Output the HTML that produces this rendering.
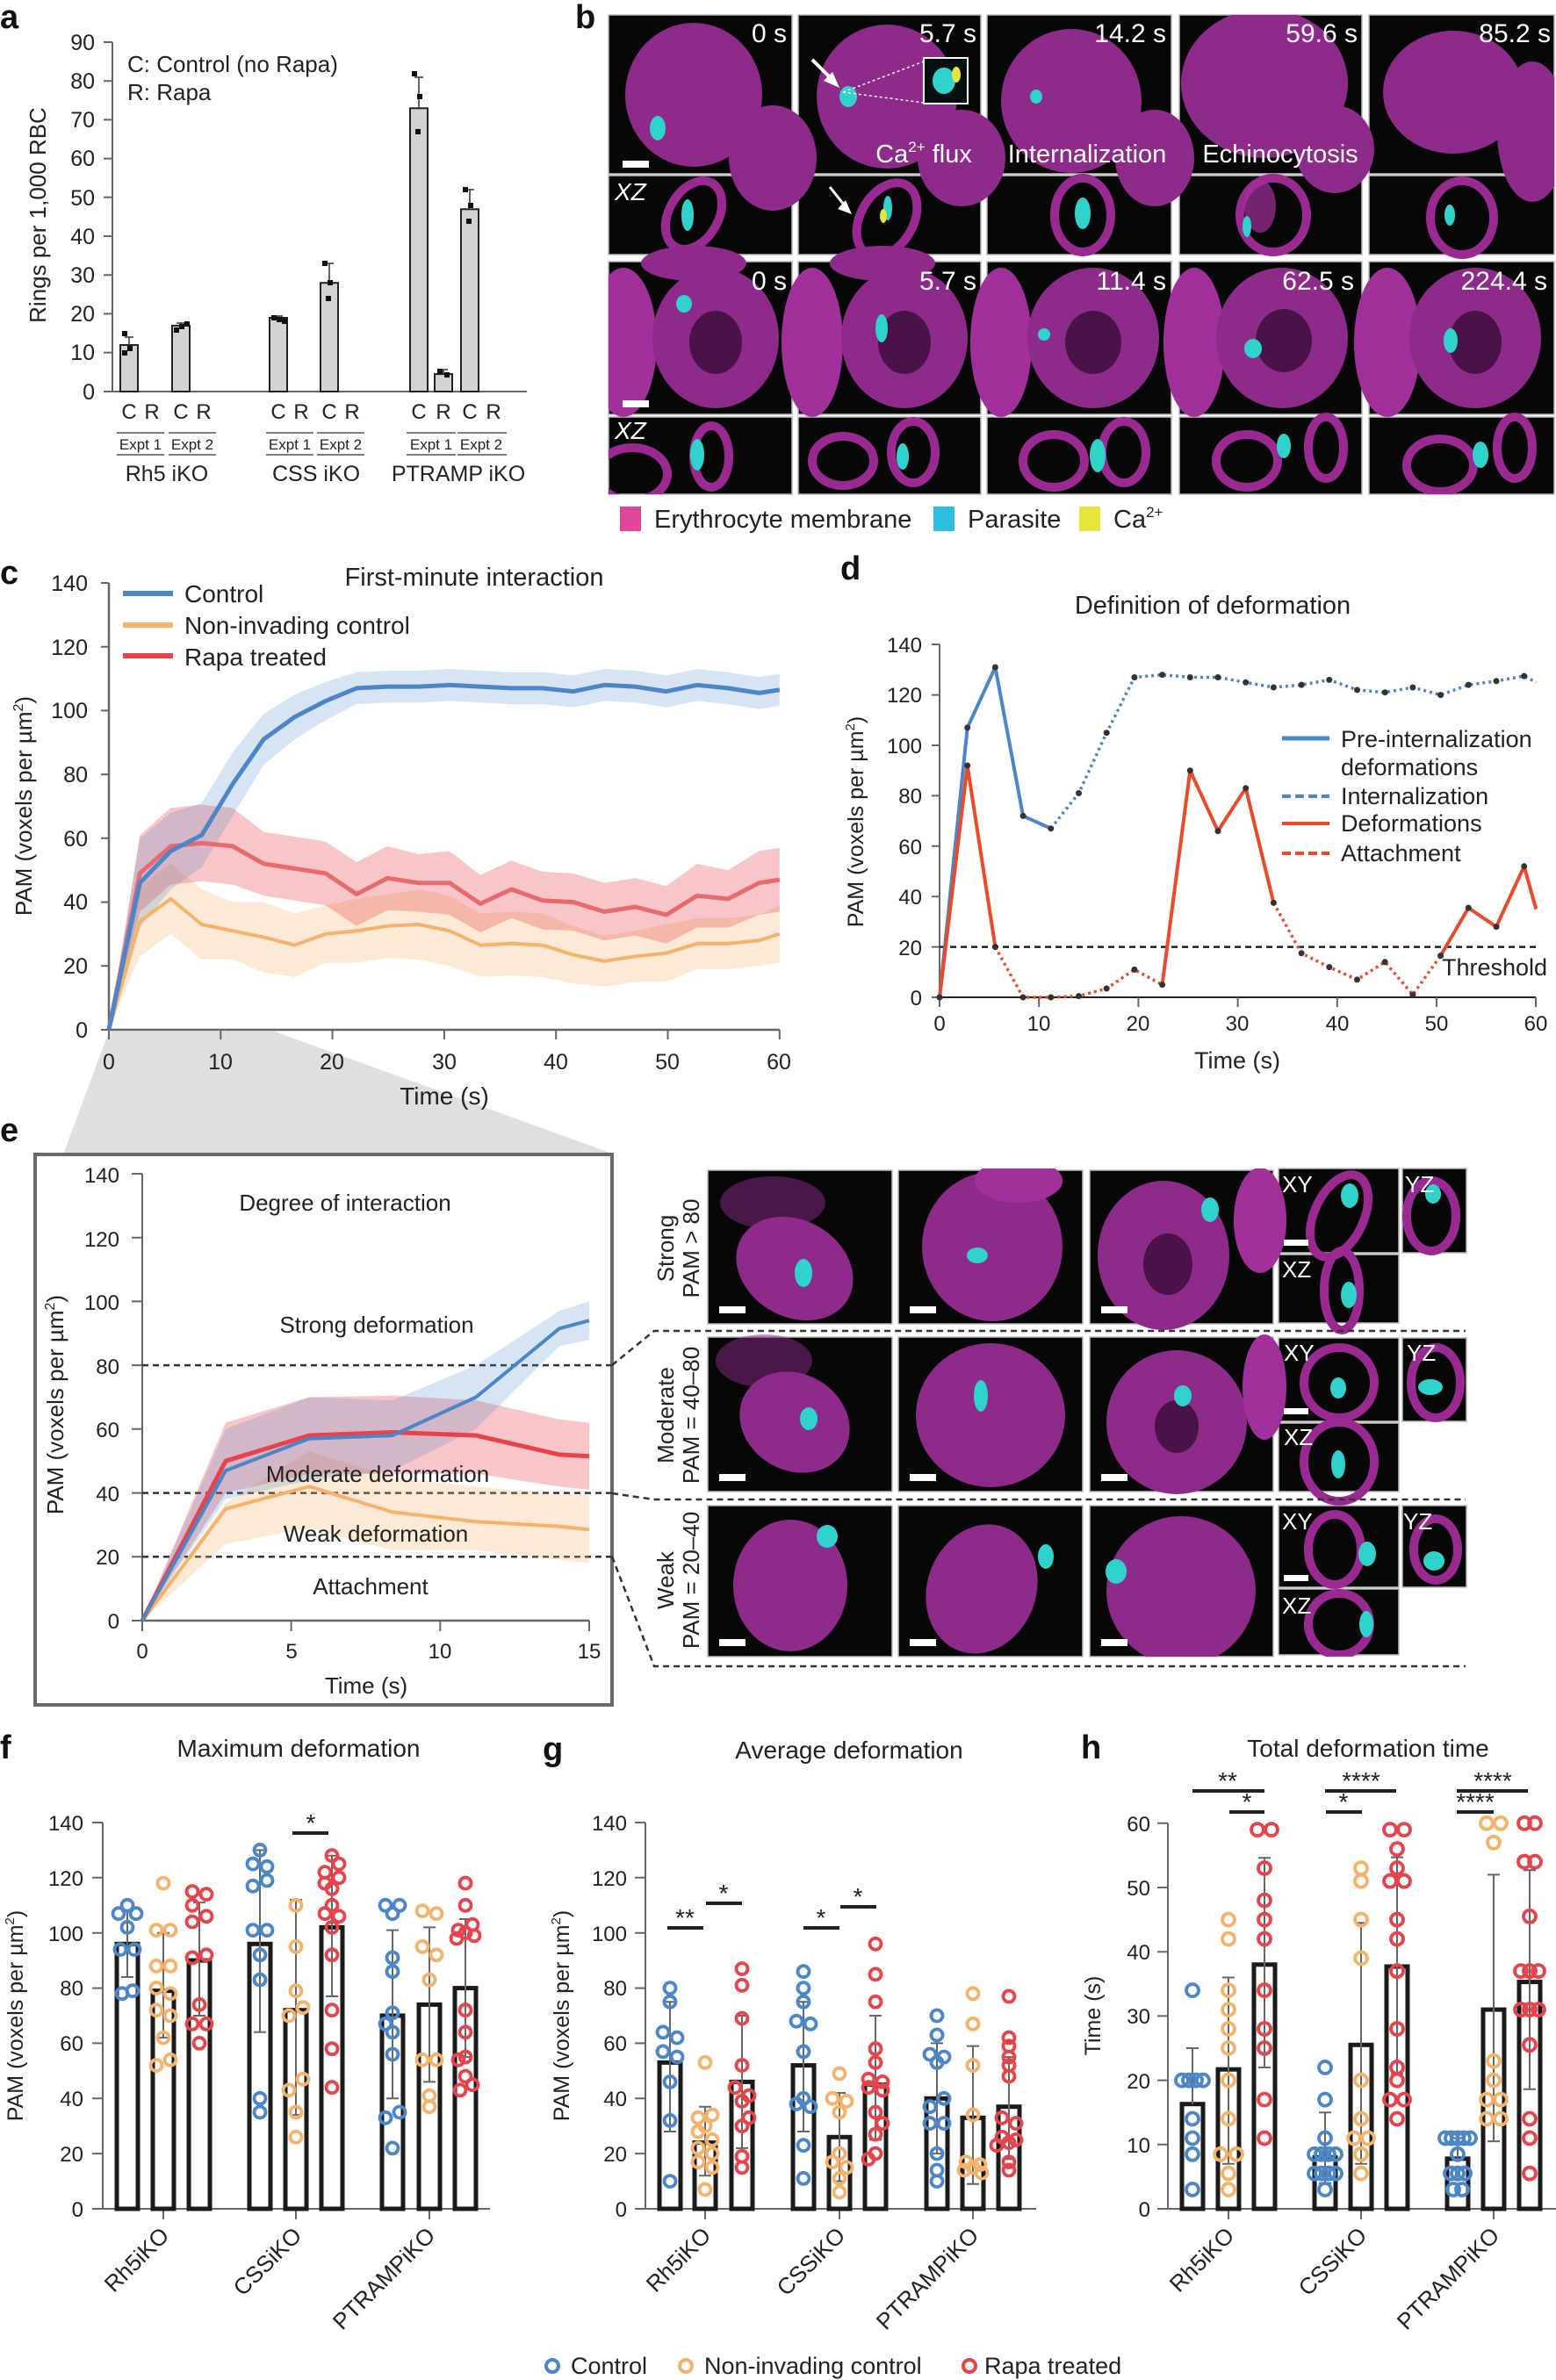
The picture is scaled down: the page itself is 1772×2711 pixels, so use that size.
<!DOCTYPE html>
<html><head><meta charset="utf-8">
<style>
html,body{margin:0;padding:0;background:#fff;}
svg{display:block;}
text{font-family:"Liberation Sans",sans-serif;fill:#222;}
.n{font-family:"Liberation Sans Narrow","Liberation Sans",sans-serif;}
.lab{font-weight:bold;font-size:38px;fill:#111;}
.w{fill:#fff;}
.cb circle{fill:none;stroke:#4a86c8;stroke-width:3.8;}
.co circle{fill:none;stroke:#f5b26b;stroke-width:3.8;}
.cr circle{fill:none;stroke:#e8424a;stroke-width:3.8;}
.bar{fill:#fff;stroke:#1a1a1a;stroke-width:5;}
.er{stroke:#666;stroke-width:2;fill:none;}
.ax{stroke:#666;stroke-width:2;fill:none;}
.im{fill:#070707;stroke:#bbb;stroke-width:1.5;}
.cell{fill:#8e2a8a;}
.cell2{fill:#a2309a;}
.ring{fill:none;stroke:#9a2a92;stroke-width:10;}
.cy{fill:#2fd3cc;}
</style></head>
<body>
<svg xmlns="http://www.w3.org/2000/svg" width="1772" height="2711" viewBox="0 0 1772 2711">
<defs>
<clipPath id="cb1"><rect x="693" y="17" width="1077" height="546"/></clipPath>
<clipPath id="ce1"><rect x="806" y="1331" width="864" height="556"/></clipPath>
</defs>
<!-- gray trapezoid and e box -->
<polygon points="124,1175 313,1175 700,1315 72,1315" fill="#dedfdf"/>
<rect x="40" y="1315" width="657" height="627" fill="#fff" stroke="#6a6a6a" stroke-width="4"/>

<!-- ===== Panel b images ===== -->
<g>
<rect class="im" x="693" y="17" width="209" height="181"/><rect class="im" x="909" y="17" width="208" height="181"/><rect class="im" x="1124" y="17" width="210" height="181"/><rect class="im" x="1343" y="17" width="208" height="181"/><rect class="im" x="1559" y="17" width="211" height="181"/>
<rect class="im" x="693" y="200" width="209" height="90"/><rect class="im" x="909" y="200" width="208" height="90"/><rect class="im" x="1124" y="200" width="210" height="90"/><rect class="im" x="1343" y="200" width="208" height="90"/><rect class="im" x="1559" y="200" width="211" height="90"/>
<rect class="im" x="693" y="298" width="209" height="174"/><rect class="im" x="909" y="298" width="208" height="174"/><rect class="im" x="1124" y="298" width="210" height="174"/><rect class="im" x="1343" y="298" width="208" height="174"/><rect class="im" x="1559" y="298" width="211" height="174"/>
<rect class="im" x="693" y="475" width="209" height="88"/><rect class="im" x="909" y="475" width="208" height="88"/><rect class="im" x="1124" y="475" width="210" height="88"/><rect class="im" x="1343" y="475" width="208" height="88"/><rect class="im" x="1559" y="475" width="211" height="88"/>
<g clip-path="url(#cb1)">
<!-- row1 -->
<ellipse class="cell" cx="790" cy="108" rx="78" ry="82"/><ellipse class="cell" cx="880" cy="180" rx="50" ry="60"/>
<ellipse class="cell" cx="1010" cy="110" rx="80" ry="82"/><ellipse class="cell" cx="1095" cy="180" rx="50" ry="55"/>
<ellipse class="cell" cx="1220" cy="115" rx="80" ry="82"/><ellipse class="cell" cx="1315" cy="180" rx="45" ry="55"/>
<ellipse class="cell" cx="1440" cy="95" rx="95" ry="85"/><ellipse class="cell" cx="1520" cy="170" rx="45" ry="50"/>
<ellipse class="cell" cx="1655" cy="105" rx="80" ry="70"/><ellipse class="cell" cx="1745" cy="150" rx="40" ry="80"/>
<!-- row2 -->
<ellipse class="ring" cx="790" cy="245" rx="28" ry="42" transform="rotate(30 790 245)"/>
<ellipse class="ring" cx="1010" cy="250" rx="30" ry="45" transform="rotate(30 1010 250)"/>
<ellipse class="ring" cx="1233" cy="245" rx="32" ry="42"/>
<ellipse class="ring" cx="1450" cy="245" rx="38" ry="42"/><ellipse class="cell2" cx="1435" cy="235" rx="18" ry="30" opacity="0.7"/>
<ellipse class="ring" cx="1665" cy="248" rx="36" ry="42"/>
<!-- row3 -->
<ellipse class="cell2" cx="710" cy="390" rx="38" ry="85"/><ellipse class="cell" cx="815" cy="385" rx="72" ry="80"/><ellipse fill="#4a1248" cx="815" cy="390" rx="30" ry="36"/><ellipse class="cell" cx="790" cy="300" rx="60" ry="20"/>
<ellipse class="cell2" cx="925" cy="390" rx="35" ry="85"/><ellipse class="cell" cx="1030" cy="385" rx="72" ry="80"/><ellipse fill="#4a1248" cx="1030" cy="390" rx="30" ry="36"/><ellipse class="cell" cx="1005" cy="300" rx="60" ry="20"/>
<ellipse class="cell2" cx="1140" cy="390" rx="35" ry="85"/><ellipse class="cell" cx="1245" cy="385" rx="75" ry="80"/><ellipse fill="#4a1248" cx="1245" cy="390" rx="32" ry="36"/>
<ellipse class="cell2" cx="1360" cy="390" rx="35" ry="85"/><ellipse class="cell" cx="1460" cy="385" rx="75" ry="80"/><ellipse fill="#4a1248" cx="1462" cy="388" rx="32" ry="36"/>
<ellipse class="cell2" cx="1580" cy="390" rx="38" ry="85"/><ellipse class="cell" cx="1680" cy="385" rx="75" ry="80"/><ellipse fill="#4a1248" cx="1680" cy="390" rx="30" ry="36"/>
<!-- row4 -->
<ellipse class="ring" cx="720" cy="540" rx="40" ry="30"/><ellipse class="ring" cx="810" cy="520" rx="20" ry="35"/>
<ellipse class="ring" cx="960" cy="525" rx="35" ry="28"/><ellipse class="ring" cx="1040" cy="515" rx="25" ry="35"/>
<ellipse class="ring" cx="1200" cy="525" rx="35" ry="30"/><ellipse class="ring" cx="1280" cy="515" rx="25" ry="35"/>
<ellipse class="ring" cx="1420" cy="525" rx="35" ry="30"/><ellipse class="ring" cx="1510" cy="510" rx="20" ry="35"/>
<ellipse class="ring" cx="1640" cy="530" rx="38" ry="30"/><ellipse class="ring" cx="1725" cy="510" rx="20" ry="35"/>
<!-- parasites -->
<ellipse class="cy" cx="749" cy="146" rx="9" ry="14"/><ellipse class="cy" cx="966" cy="110" rx="10" ry="12"/><ellipse class="cy" cx="1180" cy="110" rx="7" ry="8"/>
<ellipse class="cy" cx="783" cy="245" rx="7" ry="18"/><ellipse class="cy" cx="1011" cy="237" rx="5" ry="14"/><ellipse fill="#e6e63a" cx="1006" cy="246" rx="4" ry="8"/><ellipse class="cy" cx="1233" cy="243" rx="9" ry="18"/><ellipse class="cy" cx="1420" cy="258" rx="5" ry="12"/><ellipse class="cy" cx="1651" cy="245" rx="6" ry="12"/>
<ellipse class="cy" cx="779" cy="346" rx="9" ry="10"/><ellipse class="cy" cx="1004" cy="374" rx="7" ry="16"/><ellipse class="cy" cx="1189" cy="381" rx="7" ry="7"/><ellipse class="cy" cx="1427" cy="397" rx="10" ry="11"/><ellipse class="cy" cx="1652" cy="388" rx="8" ry="14"/>
<ellipse class="cy" cx="794" cy="518" rx="8" ry="18"/><ellipse class="cy" cx="1028" cy="520" rx="7" ry="15"/><ellipse class="cy" cx="1250" cy="519" rx="9" ry="19"/><ellipse class="cy" cx="1462" cy="508" rx="8" ry="14"/><ellipse class="cy" cx="1686" cy="518" rx="9" ry="15"/>
</g>
<rect x="1052" y="66" width="50" height="52" fill="#061010" stroke="#fff" stroke-width="2"/>
<ellipse class="cy" cx="1075" cy="92" rx="13" ry="15"/><ellipse fill="#e6e63a" cx="1089" cy="85" rx="5" ry="9"/>
<line x1="960" y1="105" x2="1052" y2="70" stroke="#fff" stroke-dasharray="3,3" stroke-width="1.5"/>
<line x1="960" y1="105" x2="1052" y2="117" stroke="#fff" stroke-dasharray="3,3" stroke-width="1.5"/>
<line x1="925" y1="68" x2="950" y2="93" stroke="#fff" stroke-width="4"/><polygon points="956,100 938,92 948,82" fill="#fff"/>
<line x1="945" y1="213" x2="965" y2="238" stroke="#fff" stroke-width="3"/><polygon points="970,244 954,238 963,228" fill="#fff"/>
<rect x="709" y="183" width="30" height="8" fill="#fff"/><rect x="709" y="456" width="30" height="8" fill="#fff"/>
</g>

<!-- ===== Panel e images ===== -->
<g>
<rect class="im" x="806" y="1333" width="210" height="175"/><rect class="im" x="1023" y="1333" width="210" height="175"/><rect class="im" x="1241" y="1333" width="209" height="175"/>
<rect class="im" x="806" y="1523" width="210" height="176"/><rect class="im" x="1023" y="1523" width="210" height="176"/><rect class="im" x="1241" y="1523" width="209" height="176"/>
<rect class="im" x="806" y="1715" width="210" height="172"/><rect class="im" x="1023" y="1715" width="210" height="172"/><rect class="im" x="1241" y="1715" width="209" height="172"/>
<rect class="im" x="1456" y="1331" width="137" height="96"/><rect class="im" x="1597" y="1331" width="73" height="96"/><rect class="im" x="1456" y="1429" width="137" height="78"/>
<rect class="im" x="1456" y="1524" width="137" height="95"/><rect class="im" x="1597" y="1524" width="73" height="95"/><rect class="im" x="1456" y="1621" width="137" height="78"/>
<rect class="im" x="1456" y="1715" width="137" height="93"/><rect class="im" x="1597" y="1715" width="73" height="93"/><rect class="im" x="1456" y="1810" width="137" height="75"/>
<g clip-path="url(#ce1)">
<ellipse class="cell" cx="905" cy="1445" rx="70" ry="55" transform="rotate(30 905 1445)"/><ellipse class="cell" cx="880" cy="1370" rx="60" ry="30" opacity="0.5"/>
<ellipse class="cell" cx="1130" cy="1420" rx="80" ry="85"/><ellipse class="cell2" cx="1160" cy="1345" rx="50" ry="25"/>
<ellipse class="cell" cx="1325" cy="1430" rx="75" ry="85"/><ellipse fill="#4a1248" cx="1330" cy="1440" rx="28" ry="35"/><ellipse class="cell2" cx="1435" cy="1390" rx="30" ry="60"/>
<ellipse class="cell" cx="905" cy="1620" rx="65" ry="55" transform="rotate(30 905 1620)"/><ellipse class="cell" cx="870" cy="1550" rx="55" ry="30" opacity="0.5"/>
<ellipse class="cell" cx="1128" cy="1612" rx="85" ry="82"/>
<ellipse class="cell" cx="1340" cy="1620" rx="80" ry="82"/><ellipse fill="#4a1248" cx="1340" cy="1625" rx="25" ry="30"/><ellipse class="cell2" cx="1440" cy="1580" rx="25" ry="60"/>
<ellipse class="cell" cx="900" cy="1806" rx="65" ry="75"/>
<ellipse class="cell" cx="1118" cy="1810" rx="62" ry="75" transform="rotate(20 1118 1810)"/>
<ellipse class="cell" cx="1345" cy="1812" rx="85" ry="85"/>
<ellipse class="ring" cx="1525" cy="1385" rx="28" ry="50" transform="rotate(25 1525 1385)"/><ellipse class="ring" cx="1630" cy="1385" rx="28" ry="40"/><ellipse class="ring" cx="1528" cy="1470" rx="20" ry="45"/>
<ellipse class="ring" cx="1525" cy="1575" rx="40" ry="40"/><ellipse class="ring" cx="1635" cy="1575" rx="28" ry="40"/><ellipse class="ring" cx="1525" cy="1665" rx="40" ry="45"/>
<ellipse class="ring" cx="1520" cy="1765" rx="30" ry="40"/><ellipse class="ring" cx="1635" cy="1765" rx="25" ry="35"/><ellipse class="ring" cx="1525" cy="1850" rx="35" ry="35"/>
<ellipse class="cy" cx="915" cy="1450" rx="10" ry="16"/><ellipse class="cy" cx="1113" cy="1430" rx="12" ry="9"/><ellipse class="cy" cx="1378" cy="1378" rx="10" ry="14"/>
<ellipse class="cy" cx="921" cy="1616" rx="10" ry="13"/><ellipse class="cy" cx="1117" cy="1590" rx="8" ry="18"/><ellipse class="cy" cx="1347" cy="1590" rx="10" ry="12"/>
<ellipse class="cy" cx="942" cy="1750" rx="12" ry="13"/><ellipse class="cy" cx="1191" cy="1773" rx="9" ry="14"/><ellipse class="cy" cx="1271" cy="1790" rx="12" ry="14"/>
<ellipse class="cy" cx="1537" cy="1362" rx="10" ry="14"/><ellipse class="cy" cx="1632" cy="1360" rx="9" ry="11"/><ellipse class="cy" cx="1536" cy="1475" rx="9" ry="15"/>
<ellipse class="cy" cx="1524" cy="1581" rx="9" ry="12"/><ellipse class="cy" cx="1629" cy="1580" rx="14" ry="9"/><ellipse class="cy" cx="1524" cy="1668" rx="8" ry="16"/>
<ellipse class="cy" cx="1557" cy="1770" rx="10" ry="14"/><ellipse class="cy" cx="1633" cy="1778" rx="12" ry="11"/><ellipse class="cy" cx="1556" cy="1850" rx="8" ry="15"/>
</g>
<rect x="819" y="1488" width="30" height="8" fill="#fff"/><rect x="1036" y="1488" width="30" height="8" fill="#fff"/><rect x="1254" y="1488" width="30" height="8" fill="#fff"/>
<rect x="819" y="1679" width="30" height="8" fill="#fff"/><rect x="1036" y="1679" width="30" height="8" fill="#fff"/><rect x="1254" y="1679" width="30" height="8" fill="#fff"/>
<rect x="819" y="1867" width="30" height="8" fill="#fff"/><rect x="1036" y="1867" width="30" height="8" fill="#fff"/><rect x="1254" y="1867" width="30" height="8" fill="#fff"/>
<rect x="1462" y="1412" width="28" height="7" fill="#fff"/><rect x="1462" y="1604" width="28" height="7" fill="#fff"/><rect x="1462" y="1794" width="28" height="7" fill="#fff"/>
</g>
<g stroke="#333" stroke-width="2.5" stroke-dasharray="7,5" fill="none">
<path d="M697,1555L745,1516L1669,1516"/><path d="M697,1701L745,1708L1669,1708"/><path d="M697,1773L745,1898L1669,1898"/>
</g>

<!-- Panel labels -->
<text class="lab" x="0" y="32">a</text>
<text class="lab" x="655" y="32">b</text>
<text class="lab" x="0" y="665">c</text>
<text class="lab" x="957" y="660">d</text>
<text class="lab" x="0" y="1300">e</text>
<text class="lab" x="0" y="2003">f</text>
<text class="lab" x="618" y="2005">g</text>
<text class="lab" x="1231" y="2003">h</text>

<!-- ===== Panel a ===== -->
<g class="ax"><path d="M128,48V446H600"/>
<path d="M118,48H128M118,92.2H128M118,136.4H128M118,180.6H128M118,224.8H128M118,269H128M118,313.2H128M118,357.4H128M118,401.6H128M118,446H128"/></g>
<g fill="#d3d3d3" stroke="#222" stroke-width="2">
<rect x="137" y="393" width="20" height="53"/><rect x="196" y="370.9" width="20" height="75.1"/><rect x="307" y="362" width="20" height="84"/><rect x="365" y="322.2" width="20" height="123.8"/><rect x="467" y="123.3" width="20" height="322.7"/><rect x="495" y="426.1" width="20" height="19.9"/><rect x="525" y="238.3" width="20" height="207.7"/>
</g>
<g stroke="#333" stroke-width="1.5"><path d="M147,393V384M142,384H152M206,371V368M201,368H211M317,362V360M312,360H322M375,322V300M370,300H380M477,123V88M472,88H482M505,426V421M500,421H510M535,238V216M530,216H540"/></g>
<g fill="#111">
<rect x="139" y="377" width="6" height="6"/><rect x="145" y="394" width="6" height="6"/><rect x="139" y="399" width="6" height="6"/>
<rect x="198" y="373" width="6" height="6"/><rect x="204" y="369" width="6" height="6"/><rect x="210" y="366" width="6" height="6"/>
<rect x="309" y="359" width="6" height="6"/><rect x="315" y="361" width="6" height="6"/><rect x="321" y="363" width="6" height="6"/>
<rect x="367" y="297" width="6" height="6"/><rect x="373" y="319" width="6" height="6"/><rect x="371" y="337" width="6" height="6"/>
<rect x="469" y="81" width="6" height="6"/><rect x="475" y="107" width="6" height="6"/><rect x="473" y="147" width="6" height="6"/>
<rect x="498" y="420" width="6" height="6"/><rect x="506" y="424" width="6" height="6"/>
<rect x="527" y="213" width="6" height="6"/><rect x="533" y="231" width="6" height="6"/><rect x="531" y="249" width="6" height="6"/>
</g>
<g stroke="#333" stroke-width="1.2"><path d="M133,493H187M192,493H246M303,493H357M361,493H415M463,493H519M521,493H577M133,518H187M192,518H246M303,518H357M361,518H415M463,518H519M521,518H577"/></g>
<g font-size="25" text-anchor="end">
<text x="108" y="57">90</text><text x="108" y="101">80</text><text x="108" y="145">70</text><text x="108" y="189">60</text><text x="108" y="234">50</text><text x="108" y="278">40</text><text x="108" y="322">30</text><text x="108" y="366">20</text><text x="108" y="410">10</text><text x="108" y="455">0</text>
</g>
<text x="145" y="82" font-size="26">C: Control (no Rapa)</text>
<text x="145" y="114" font-size="26">R: Rapa</text>
<text transform="translate(52,245) rotate(-90)" font-size="26" text-anchor="middle">Rings per 1,000 RBC</text>
<g font-size="24" text-anchor="middle">
<text x="147" y="477">C</text><text x="173" y="477">R</text><text x="206" y="477">C</text><text x="232" y="477">R</text>
<text x="317" y="477">C</text><text x="343" y="477">R</text><text x="375" y="477">C</text><text x="401" y="477">R</text>
<text x="477" y="477">C</text><text x="505" y="477">R</text><text x="535" y="477">C</text><text x="562" y="477">R</text>
</g>
<g font-size="17" text-anchor="middle">
<text x="160" y="512">Expt 1</text><text x="219" y="512">Expt 2</text>
<text x="330" y="512">Expt 1</text><text x="388" y="512">Expt 2</text>
<text x="491" y="512">Expt 1</text><text x="548" y="512">Expt 2</text>
</g>
<g font-size="25" text-anchor="middle">
<text x="190" y="548">Rh5 iKO</text><text x="360" y="548">CSS iKO</text><text x="522" y="548">PTRAMP iKO</text>
</g>

<!-- Panel b text -->
<g class="n" font-size="30" text-anchor="end">
<text class="w" x="896" y="48">0 s</text><text class="w" x="1112" y="48">5.7 s</text><text class="w" x="1328" y="48">14.2 s</text><text class="w" x="1546" y="48">59.6 s</text><text class="w" x="1766" y="48">85.2 s</text>
<text class="w" x="896" y="330">0 s</text><text class="w" x="1112" y="330">5.7 s</text><text class="w" x="1328" y="330">11.4 s</text><text class="w" x="1542" y="330">62.5 s</text><text class="w" x="1762" y="330">224.4 s</text>
</g>
<g class="n" font-size="29" text-anchor="middle">
<text class="w" x="1052" y="185">Ca<tspan font-size="17" dy="-12">2+</tspan><tspan dy="12"> flux</tspan></text>
<text class="w" x="1238" y="185">Internalization</text>
<text class="w" x="1458" y="185">Echinocytosis</text>
</g>
<text class="n w" x="700" y="228" font-size="28" font-style="italic">XZ</text>
<text class="n w" x="700" y="500" font-size="28" font-style="italic">XZ</text>
<rect x="706" y="577" width="24" height="28" fill="#e0479a"/>
<text class="n" x="745" y="601" font-size="29">Erythrocyte membrane</text>
<rect x="1063" y="577" width="24" height="28" fill="#2ebfe0"/>
<text class="n" x="1102" y="601" font-size="29">Parasite</text>
<rect x="1229" y="577" width="24" height="28" fill="#e6e63a"/>
<text class="n" x="1268" y="601" font-size="29">Ca<tspan font-size="17" dy="-12">2+</tspan></text>

<!-- ===== Panel c ===== -->
<g class="ax"><path d="M124,664V1173H888" stroke-width="2.5"/>
<path d="M115,1173H124M115,1100.3H124M115,1027.6H124M115,954.8H124M115,882.1H124M115,809.4H124M115,736.7H124M115,664H124"/>
<path d="M124,1173V1184M251.3,1173V1184M378.6,1173V1184M505.9,1173V1184M633.2,1173V1184M760.5,1173V1184M887.8,1173V1184"/></g>
<polygon fill="#f5b26b" fill-opacity="0.28" points="124,1173 159.3,1009.4 194.5,983.9 229.8,1013 265,1027.6 300.3,1027.6 335.6,1040.3 370.8,1031.2 406.1,1023.9 441.3,1018.5 476.6,1013 511.9,1020.3 547.1,1040.3 582.4,1038.5 617.6,1040.3 652.9,1054.8 688.2,1065.7 723.4,1060.3 758.7,1053 793.9,1045.7 829.2,1045.7 864.5,1042.1 887.8,1031.2 887.8,1096.6 864.5,1100.3 829.2,1103.9 793.9,1103.9 758.7,1118.5 723.4,1118.5 688.2,1123.9 652.9,1120.3 617.6,1113 582.4,1111.2 547.1,1113 511.9,1100.3 476.6,1093 441.3,1091.2 406.1,1096.6 370.8,1096.6 335.6,1113 300.3,1107.5 265,1093 229.8,1093 194.5,1063.9 159.3,1089.4"/>
<polygon fill="#e8424a" fill-opacity="0.3" points="124,1173 159.3,951.2 194.5,920.3 229.8,916.7 265,920.3 300.3,947.6 335.6,953 370.8,958.5 406.1,982.1 441.3,963.9 476.6,973 511.9,969.4 547.1,996.7 582.4,980.3 617.6,993 652.9,994.8 688.2,1005.7 723.4,1000.3 758.7,1009.4 793.9,983.9 829.2,991.2 864.5,969.4 887.8,965.7 887.8,1038.5 864.5,1042.1 829.2,1056.6 793.9,1056.6 758.7,1074.8 723.4,1065.7 688.2,1071.2 652.9,1060.3 617.6,1058.5 582.4,1045.7 547.1,1062.1 511.9,1042.1 476.6,1038.5 441.3,1036.7 406.1,1054.8 370.8,1031.2 335.6,1025.7 300.3,1020.3 265,1007.6 229.8,1003.9 194.5,1007.6 159.3,1038.5"/>
<polygon fill="#4a86c8" fill-opacity="0.22" points="124,1173 159.3,954.8 194.5,925.8 229.8,914.8 265,856.7 300.3,813 335.6,791.2 370.8,776.7 406.1,765.8 441.3,764 476.6,764 511.9,762.1 547.1,764 582.4,765.8 617.6,765.8 652.9,769.4 688.2,762.1 723.4,764 758.7,769.4 793.9,762.1 829.2,765.8 864.5,771.2 887.8,767.6 887.8,804 864.5,807.6 829.2,802.1 793.9,798.5 758.7,805.8 723.4,800.3 688.2,798.5 652.9,805.8 617.6,802.1 582.4,802.1 547.1,800.3 511.9,798.5 476.6,800.3 441.3,800.3 406.1,802.1 370.8,820.3 335.6,842.1 300.3,871.2 265,929.4 229.8,987.6 194.5,1013 159.3,1056.6"/>
<g fill="none" stroke-width="5" stroke-linejoin="round">
<path stroke="#f5b26b" stroke-width="4" d="M124,1173L159.3,1049.4L194.5,1023.9L229.8,1053L265,1060.3L300.3,1067.6L335.6,1076.6L370.8,1063.9L406.1,1060.3L441.3,1054.8L476.6,1053L511.9,1060.3L547.1,1076.6L582.4,1074.8L617.6,1076.6L652.9,1087.6L688.2,1094.8L723.4,1089.4L758.7,1085.7L793.9,1074.8L829.2,1074.8L864.5,1071.2L887.8,1063.9"/>
<path stroke="#e86a6e" d="M124,1173L159.3,994.8L194.5,963.9L229.8,960.3L265,963.9L300.3,983.9L335.6,989.4L370.8,994.8L406.1,1018.5L441.3,1000.3L476.6,1005.7L511.9,1005.7L547.1,1029.4L582.4,1013L617.6,1025.7L652.9,1027.6L688.2,1038.5L723.4,1033L758.7,1042.1L793.9,1020.3L829.2,1023.9L864.5,1005.7L887.8,1002.1"/>
<path stroke="#4a86c8" d="M124,1173L159.3,1005.7L194.5,969.4L229.8,951.2L265,893L300.3,842.1L335.6,816.7L370.8,798.5L406.1,783.9L441.3,782.1L476.6,782.1L511.9,780.3L547.1,782.1L582.4,783.9L617.6,783.9L652.9,787.6L688.2,780.3L723.4,782.1L758.7,787.6L793.9,780.3L829.2,783.9L864.5,789.4L887.8,785.8"/>
</g>
<line x1="140" y1="676" x2="197" y2="676" stroke="#4a86c8" stroke-width="6"/>
<line x1="140" y1="712" x2="197" y2="712" stroke="#f5b26b" stroke-width="6"/>
<line x1="140" y1="747" x2="197" y2="747" stroke="#e8424a" stroke-width="6"/>
<g class="n" font-size="25" text-anchor="end">
<text x="100" y="1182">0</text><text x="100" y="1109">20</text><text x="100" y="1036">40</text><text x="100" y="964">60</text><text x="100" y="891">80</text><text x="100" y="818">100</text><text x="100" y="746">120</text><text x="100" y="673">140</text>
</g>
<g class="n" font-size="25" text-anchor="middle">
<text x="124" y="1218">0</text><text x="251" y="1218">10</text><text x="378" y="1218">20</text><text x="506" y="1218">30</text><text x="633" y="1218">40</text><text x="760" y="1218">50</text><text x="887" y="1218">60</text>
</g>
<text class="n" x="506" y="1258" font-size="28" text-anchor="middle">Time (s)</text>
<text transform="translate(36,918) rotate(-90)" font-size="26" text-anchor="middle">PAM (voxels per µm<tspan font-size="16" dy="-10">2</tspan><tspan dy="10">)</tspan></text>
<text class="n" x="540" y="667" font-size="29" text-anchor="middle">First-minute interaction</text>
<g class="n" font-size="28">
<text x="210" y="686">Control</text><text x="210" y="722">Non-invading control</text><text x="210" y="758">Rapa treated</text>
</g>

<!-- ===== Panel d ===== -->
<g class="ax"><path d="M1070,734V1136"/><path d="M1070,1136H1749" stroke="#222"/>
<path d="M1061,1136H1070M1061,1078.6H1070M1061,1021.2H1070M1061,963.8H1070M1061,906.4H1070M1061,849H1070M1061,791.6H1070M1061,734H1070"/>
<path d="M1070,1136V1147M1183.2,1136V1147M1296.4,1136V1147M1409.6,1136V1147M1522.8,1136V1147M1636,1136V1147M1749,1136V1147"/></g>
<path d="M1070,1078.6H1749" stroke="#222" stroke-width="2.5" stroke-dasharray="7,5"/>
<g fill="none" stroke-linejoin="round">
<path stroke="#4a86c8" stroke-width="4" d="M1070,1136L1101.7,828.9L1133.4,760L1165.1,929.4L1196.8,943.7"/>
<path stroke="#4a86c8" stroke-width="3.5" stroke-dasharray="3,4" d="M1196.8,943.7L1228.5,903.5L1260.2,834.7L1291.9,771.5L1323.6,768.6L1355.3,771.5L1387,771.5L1418.7,777.3L1450.4,783L1482.1,780.1L1513.8,774.4L1545.5,785.9L1577.2,788.7L1608.9,783L1640.6,791.6L1672.3,780.1L1704,775.8L1735.7,770.1L1749.3,777.3"/>
<path stroke="#ea4a2a" stroke-width="4" d="M1070,1136L1101.7,872L1133.4,1078.6"/>
<path stroke="#ea4a2a" stroke-width="3.5" stroke-dasharray="3,4" d="M1133.4,1078.6L1165.1,1136L1196.8,1136L1228.5,1134.6L1260.2,1126L1291.9,1104.4L1323.6,1121.7"/>
<path stroke="#ea4a2a" stroke-width="4" d="M1323.6,1121.7L1355.3,877.7L1387,946.6L1418.7,897.8L1450.4,1028.4"/>
<path stroke="#ea4a2a" stroke-width="3.5" stroke-dasharray="3,4" d="M1450.4,1028.4L1482.1,1085.8L1513.8,1101.6L1545.5,1115.9L1577.2,1095.8L1608.9,1133.1L1640.6,1088.6"/>
<path stroke="#ea4a2a" stroke-width="4" d="M1640.6,1088.6L1672.3,1034.1L1704,1055.6L1735.7,986.8L1749.3,1035.6"/>
</g>
<g fill="#333">
<circle cx="1070" cy="1136" r="3.5"/><circle cx="1101.7" cy="828.9" r="3.5"/><circle cx="1133.4" cy="760" r="3.5"/><circle cx="1165.1" cy="929.4" r="3.5"/><circle cx="1196.8" cy="943.7" r="3.5"/><circle cx="1228.5" cy="903.5" r="3.5"/><circle cx="1260.2" cy="834.7" r="3.5"/><circle cx="1291.9" cy="771.5" r="3.5"/><circle cx="1323.6" cy="768.6" r="3.5"/><circle cx="1355.3" cy="771.5" r="3.5"/><circle cx="1387" cy="771.5" r="3.5"/><circle cx="1418.7" cy="777.3" r="3.5"/><circle cx="1450.4" cy="783" r="3.5"/><circle cx="1482.1" cy="780.1" r="3.5"/><circle cx="1513.8" cy="774.4" r="3.5"/><circle cx="1545.5" cy="785.9" r="3.5"/><circle cx="1577.2" cy="788.7" r="3.5"/><circle cx="1608.9" cy="783" r="3.5"/><circle cx="1640.6" cy="791.6" r="3.5"/><circle cx="1672.3" cy="780.1" r="3.5"/><circle cx="1704" cy="775.8" r="3.5"/><circle cx="1735.7" cy="770.1" r="3.5"/>
<circle cx="1101.7" cy="872" r="3.5"/><circle cx="1133.4" cy="1078.6" r="3.5"/><circle cx="1165.1" cy="1136" r="3.5"/><circle cx="1196.8" cy="1136" r="3.5"/><circle cx="1228.5" cy="1134.6" r="3.5"/><circle cx="1260.2" cy="1126" r="3.5"/><circle cx="1291.9" cy="1104.4" r="3.5"/><circle cx="1323.6" cy="1121.7" r="3.5"/><circle cx="1355.3" cy="877.7" r="3.5"/><circle cx="1387" cy="946.6" r="3.5"/><circle cx="1418.7" cy="897.8" r="3.5"/><circle cx="1450.4" cy="1028.4" r="3.5"/><circle cx="1482.1" cy="1085.8" r="3.5"/><circle cx="1513.8" cy="1101.6" r="3.5"/><circle cx="1545.5" cy="1115.9" r="3.5"/><circle cx="1577.2" cy="1095.8" r="3.5"/><circle cx="1608.9" cy="1133.1" r="3.5"/><circle cx="1640.6" cy="1088.6" r="3.5"/><circle cx="1672.3" cy="1034.1" r="3.5"/><circle cx="1704" cy="1055.6" r="3.5"/><circle cx="1735.7" cy="986.8" r="3.5"/>
</g>
<line x1="1460" y1="841" x2="1514" y2="841" stroke="#4a86c8" stroke-width="5"/>
<line x1="1460" y1="907" x2="1514" y2="907" stroke="#4a86c8" stroke-width="4" stroke-dasharray="10,5"/>
<line x1="1460" y1="938" x2="1514" y2="938" stroke="#ea4a2a" stroke-width="4"/>
<line x1="1460" y1="972" x2="1514" y2="972" stroke="#ea4a2a" stroke-width="4" stroke-dasharray="10,5"/>
<text class="n" x="1381" y="699" font-size="29" text-anchor="middle">Definition of deformation</text>
<g class="n" font-size="24" text-anchor="end">
<text x="1050" y="1145">0</text><text x="1050" y="1088">20</text><text x="1050" y="1030">40</text><text x="1050" y="973">60</text><text x="1050" y="915">80</text><text x="1050" y="858">100</text><text x="1050" y="800">120</text><text x="1050" y="743">140</text>
</g>
<g class="n" font-size="24" text-anchor="middle">
<text x="1070" y="1174">0</text><text x="1183" y="1174">10</text><text x="1296" y="1174">20</text><text x="1409" y="1174">30</text><text x="1523" y="1174">40</text><text x="1636" y="1174">50</text><text x="1749" y="1174">60</text>
</g>
<text class="n" x="1409" y="1217" font-size="27" text-anchor="middle">Time (s)</text>
<text transform="translate(983,936) rotate(-90)" font-size="25" text-anchor="middle">PAM (voxels per µm<tspan font-size="15" dy="-10">2</tspan><tspan dy="10">)</tspan></text>
<g class="n" font-size="27">
<text x="1527" y="851">Pre-internalization</text><text x="1527" y="883">deformations</text><text x="1527" y="916">Internalization</text><text x="1527" y="947">Deformations</text><text x="1527" y="981">Attachment</text>
</g>
<text class="n" x="1642" y="1111" font-size="27">Threshold</text>

<!-- ===== Panel e ===== -->
<g class="ax"><path d="M162,1337V1846"/><path d="M162,1846H671" stroke-width="2.5"/>
<path d="M150,1846H162M150,1773.3H162M150,1700.6H162M150,1627.8H162M150,1555.1H162M150,1482.4H162M150,1409.7H162M150,1337H162"/>
<path d="M162,1846V1858M331.6,1846V1858M501.3,1846V1858M671,1846V1858"/></g>
<g stroke="#333" stroke-width="2.5" stroke-dasharray="7,5"><path d="M162,1555.1H697M162,1700.6H697M162,1773.3H697"/></g>
<polygon fill="#f5b26b" fill-opacity="0.28" points="162,1846 257,1711.5 352,1653.3 447,1682.4 542,1693.3 637,1702.4 671,1702.4 671,1780.6 637,1776.9 542,1766 447,1766 352,1740.6 257,1758.7"/>
<polygon fill="#e8424a" fill-opacity="0.3" points="162,1846 257,1620.6 352,1591.5 447,1589.7 542,1595.1 637,1616.9 671,1620.6 671,1696.9 637,1693.3 542,1678.7 447,1678.7 352,1678.7 257,1700.6"/>
<polygon fill="#4a86c8" fill-opacity="0.22" points="162,1846 257,1627.8 352,1591.5 447,1595.1 542,1555.1 637,1493.3 671,1482.4 671,1526 637,1533.3 542,1627.8 447,1675.1 352,1686 257,1707.8"/>
<g fill="none" stroke-linejoin="round">
<path stroke="#f5b26b" stroke-width="4" d="M162,1846L257,1718.7L352,1693.3L447,1722.4L542,1733.3L637,1738.7L671,1742.4"/>
<path stroke="#e8424a" stroke-width="5" d="M162,1846L257,1664.2L352,1635.1L447,1631.5L542,1635.1L637,1656.9L671,1658.7"/>
<path stroke="#4a86c8" stroke-width="4" d="M162,1846L257,1675.1L352,1638.7L447,1635.1L542,1591.5L637,1513.3L671,1504.2"/>
</g>
<g font-size="24" text-anchor="end">
<text x="136" y="1855">0</text><text x="136" y="1782">20</text><text x="136" y="1710">40</text><text x="136" y="1637">60</text><text x="136" y="1565">80</text><text x="136" y="1492">100</text><text x="136" y="1420">120</text><text x="136" y="1347">140</text>
</g>
<g font-size="24" text-anchor="middle">
<text x="162" y="1889">0</text><text x="332" y="1889">5</text><text x="501" y="1889">10</text><text x="671" y="1889">15</text>
</g>
<text x="417" y="1929" font-size="26" text-anchor="middle">Time (s)</text>
<text transform="translate(72,1600) rotate(-90)" font-size="26" text-anchor="middle">PAM (voxels per µm<tspan font-size="16" dy="-10">2</tspan><tspan dy="10">)</tspan></text>
<g font-size="26" text-anchor="middle">
<text x="393" y="1379">Degree of interaction</text>
<text x="429" y="1518">Strong deformation</text>
<text x="430" y="1688">Moderate deformation</text>
<text x="428" y="1756">Weak deformation</text>
<text x="422" y="1816">Attachment</text>
</g>
<g font-size="26" text-anchor="middle">
<text transform="translate(767,1422) rotate(-90)">Strong</text>
<text transform="translate(796,1422) rotate(-90)">PAM &gt; 80</text>
<text transform="translate(767,1612) rotate(-90)">Moderate</text>
<text transform="translate(796,1612) rotate(-90)">PAM = 40–80</text>
<text transform="translate(767,1800) rotate(-90)">Weak</text>
<text transform="translate(796,1800) rotate(-90)">PAM = 20–40</text>
</g>
<g class="n" font-size="26">
<text class="w" x="1460" y="1358">XY</text><text class="w" x="1600" y="1358">YZ</text><text class="w" x="1460" y="1455">XZ</text>
<text class="w" x="1462" y="1550">XY</text><text class="w" x="1602" y="1550">YZ</text><text class="w" x="1462" y="1646">XZ</text>
<text class="w" x="1460" y="1742">XY</text><text class="w" x="1598" y="1742">YZ</text><text class="w" x="1460" y="1838">XZ</text>
</g>

<!-- ===== Panel f ===== -->
<g class="ax" stroke="#777"><path d="M117,2076V2516M109,2516H558"/>
<path d="M105,2516H117M105,2453.1H117M105,2390.3H117M105,2327.4H117M105,2264.6H117M105,2201.7H117M105,2138.8H117M105,2076H117"/>
<path d="M186,2516V2528M337,2516V2528M489,2516V2528"/></g>
<rect class="bar" x="133" y="2214.3" width="24" height="301.7"/><rect class="bar" x="174" y="2267.7" width="24" height="248.3"/><rect class="bar" x="215" y="2233.1" width="24" height="282.9"/>
<rect class="bar" x="284" y="2214.3" width="24" height="301.7"/><rect class="bar" x="325" y="2289.7" width="24" height="226.3"/><rect class="bar" x="366" y="2195.4" width="24" height="320.6"/>
<rect class="bar" x="435" y="2296" width="24" height="220"/><rect class="bar" x="477" y="2283.4" width="24" height="232.6"/><rect class="bar" x="518" y="2264.6" width="24" height="251.4"/>
<path class="er" d="M145,2252V2176.6M138,2252H152M138,2176.6H152 M186,2321.1V2201.7M179,2321.1H193M179,2201.7H193 M227,2296V2167.1M220,2296H234M220,2167.1H234 M296,2314.8V2107.4M289,2314.8H303M289,2107.4H303 M337,2409.1V2164M330,2409.1H344M330,2164H344 M378,2274V2113.7M371,2274H385M371,2113.7H385 M447,2390.3V2198.6M440,2390.3H454M440,2198.6H454 M489,2371.4V2195.4M482,2371.4H496M482,2195.4H496 M530,2343.1V2186M523,2343.1H537M523,2186H537"/>
<g class="cb"><circle cx="145" cy="2170.3" r="6.5"/><circle cx="135" cy="2179.7" r="6.5"/><circle cx="155" cy="2179.7" r="6.5"/><circle cx="145" cy="2195.4" r="6.5"/><circle cx="137" cy="2220.6" r="6.5"/><circle cx="153" cy="2220.6" r="6.5"/><circle cx="139" cy="2270.8" r="6.5"/><circle cx="151" cy="2267.7" r="6.5"/>
<circle cx="296" cy="2107.4" r="6.5"/><circle cx="288" cy="2123.1" r="6.5"/><circle cx="304" cy="2126.3" r="6.5"/><circle cx="304" cy="2142" r="6.5"/><circle cx="288" cy="2148.3" r="6.5"/><circle cx="288" cy="2198.6" r="6.5"/><circle cx="304" cy="2198.6" r="6.5"/><circle cx="296" cy="2226.8" r="6.5"/><circle cx="296" cy="2255.1" r="6.5"/><circle cx="296" cy="2390.3" r="6.5"/><circle cx="296" cy="2406" r="6.5"/>
<circle cx="439" cy="2170.3" r="6.5"/><circle cx="455" cy="2170.3" r="6.5"/><circle cx="447" cy="2179.7" r="6.5"/><circle cx="447" cy="2230" r="6.5"/><circle cx="447" cy="2245.7" r="6.5"/><circle cx="447" cy="2292.8" r="6.5"/><circle cx="439" cy="2305.4" r="6.5"/><circle cx="447" cy="2314.8" r="6.5"/><circle cx="447" cy="2340" r="6.5"/><circle cx="455" cy="2406" r="6.5"/><circle cx="439" cy="2412.3" r="6.5"/><circle cx="447" cy="2446.9" r="6.5"/></g>
<g class="co"><circle cx="186" cy="2145.1" r="6.5"/><circle cx="178" cy="2198.6" r="6.5"/><circle cx="194" cy="2198.6" r="6.5"/><circle cx="178" cy="2239.4" r="6.5"/><circle cx="194" cy="2239.4" r="6.5"/><circle cx="178" cy="2264.6" r="6.5"/><circle cx="194" cy="2270.8" r="6.5"/><circle cx="178" cy="2289.7" r="6.5"/><circle cx="194" cy="2296" r="6.5"/><circle cx="186" cy="2321.1" r="6.5"/><circle cx="194" cy="2346.3" r="6.5"/><circle cx="178" cy="2352.6" r="6.5"/>
<circle cx="337" cy="2170.3" r="6.5"/><circle cx="337" cy="2217.4" r="6.5"/><circle cx="337" cy="2267.7" r="6.5"/><circle cx="345" cy="2286.6" r="6.5"/><circle cx="329" cy="2296" r="6.5"/><circle cx="345" cy="2368.3" r="6.5"/><circle cx="329" cy="2380.9" r="6.5"/><circle cx="337" cy="2406" r="6.5"/><circle cx="337" cy="2434.3" r="6.5"/>
<circle cx="481" cy="2176.6" r="6.5"/><circle cx="497" cy="2179.7" r="6.5"/><circle cx="481" cy="2217.4" r="6.5"/><circle cx="497" cy="2226.8" r="6.5"/><circle cx="489" cy="2255.1" r="6.5"/><circle cx="481" cy="2346.3" r="6.5"/><circle cx="497" cy="2346.3" r="6.5"/><circle cx="489" cy="2387.1" r="6.5"/><circle cx="489" cy="2399.7" r="6.5"/></g>
<g class="cr"><circle cx="219" cy="2154.6" r="6.5"/><circle cx="235" cy="2157.7" r="6.5"/><circle cx="219" cy="2170.3" r="6.5"/><circle cx="235" cy="2182.8" r="6.5"/><circle cx="219" cy="2189.1" r="6.5"/><circle cx="219" cy="2230" r="6.5"/><circle cx="235" cy="2226.8" r="6.5"/><circle cx="227" cy="2283.4" r="6.5"/><circle cx="219" cy="2305.4" r="6.5"/><circle cx="235" cy="2305.4" r="6.5"/><circle cx="227" cy="2327.4" r="6.5"/>
<circle cx="378" cy="2113.7" r="6.5"/><circle cx="386" cy="2123.1" r="6.5"/><circle cx="370" cy="2132.6" r="6.5"/><circle cx="386" cy="2138.8" r="6.5"/><circle cx="370" cy="2145.1" r="6.5"/><circle cx="378" cy="2151.4" r="6.5"/><circle cx="378" cy="2170.3" r="6.5"/><circle cx="370" cy="2179.7" r="6.5"/><circle cx="386" cy="2182.8" r="6.5"/><circle cx="378" cy="2195.4" r="6.5"/><circle cx="378" cy="2226.8" r="6.5"/><circle cx="378" cy="2289.7" r="6.5"/><circle cx="378" cy="2333.7" r="6.5"/><circle cx="378" cy="2377.7" r="6.5"/>
<circle cx="530" cy="2145.1" r="6.5"/><circle cx="530" cy="2170.3" r="6.5"/><circle cx="538" cy="2192.3" r="6.5"/><circle cx="522" cy="2198.6" r="6.5"/><circle cx="530" cy="2201.7" r="6.5"/><circle cx="540" cy="2204.8" r="6.5"/><circle cx="520" cy="2208" r="6.5"/><circle cx="530" cy="2289.7" r="6.5"/><circle cx="530" cy="2314.8" r="6.5"/><circle cx="530" cy="2343.1" r="6.5"/><circle cx="522" cy="2346.3" r="6.5"/><circle cx="530" cy="2365.1" r="6.5"/><circle cx="538" cy="2374.6" r="6.5"/><circle cx="524" cy="2380.9" r="6.5"/></g>
<path d="M333,2088H374" stroke="#222" stroke-width="4"/>

<!-- ===== Panel g ===== -->
<g class="ax" stroke="#777"><path d="M735,2076V2516M727,2516H1180"/>
<path d="M723,2516H735M723,2453.1H735M723,2390.3H735M723,2327.4H735M723,2264.6H735M723,2201.7H735M723,2138.8H735M723,2076H735"/>
<path d="M803,2516V2528M956,2516V2528M1108,2516V2528"/></g>
<rect class="bar" x="751" y="2349.4" width="24" height="166.6"/><rect class="bar" x="791" y="2440.6" width="24" height="75.4"/><rect class="bar" x="833" y="2371.4" width="24" height="144.6"/>
<rect class="bar" x="903" y="2352.6" width="24" height="163.4"/><rect class="bar" x="944" y="2434.3" width="24" height="81.7"/><rect class="bar" x="985" y="2374.6" width="24" height="141.4"/>
<rect class="bar" x="1055" y="2390.3" width="24" height="125.7"/><rect class="bar" x="1096" y="2412.3" width="24" height="103.7"/><rect class="bar" x="1137" y="2399.7" width="24" height="116.3"/>
<path class="er" d="M763,2428V2280.3M756,2428H770M756,2280.3H770 M803,2478.3V2399.7M796,2478.3H810M796,2399.7H810 M845,2446.9V2296M838,2446.9H852M838,2296H852 M915,2428V2280.3M908,2428H922M908,2280.3H922 M956,2484.6V2384M949,2484.6H963M949,2384H963 M997,2437.4V2296M990,2437.4H1004M990,2296H1004 M1067,2453.1V2327.4M1060,2453.1H1074M1060,2327.4H1074 M1108,2487.7V2330.6M1101,2487.7H1115M1101,2330.6H1115 M1149,2459.4V2343.1M1142,2459.4H1156M1142,2343.1H1156"/>
<g class="cb"><circle cx="763" cy="2264.6" r="6.5"/><circle cx="763" cy="2280.3" r="6.5"/><circle cx="755" cy="2314.8" r="6.5"/><circle cx="771" cy="2321.1" r="6.5"/><circle cx="755" cy="2336.9" r="6.5"/><circle cx="771" cy="2343.1" r="6.5"/><circle cx="763" cy="2371.4" r="6.5"/><circle cx="763" cy="2415.4" r="6.5"/><circle cx="763" cy="2484.6" r="6.5"/>
<circle cx="915" cy="2245.7" r="6.5"/><circle cx="915" cy="2264.6" r="6.5"/><circle cx="915" cy="2280.3" r="6.5"/><circle cx="907" cy="2302.3" r="6.5"/><circle cx="923" cy="2305.4" r="6.5"/><circle cx="915" cy="2336.9" r="6.5"/><circle cx="915" cy="2390.3" r="6.5"/><circle cx="907" cy="2396.6" r="6.5"/><circle cx="923" cy="2399.7" r="6.5"/><circle cx="915" cy="2443.7" r="6.5"/><circle cx="915" cy="2481.4" r="6.5"/>
<circle cx="1067" cy="2296" r="6.5"/><circle cx="1067" cy="2318" r="6.5"/><circle cx="1059" cy="2340" r="6.5"/><circle cx="1075" cy="2343.1" r="6.5"/><circle cx="1067" cy="2349.4" r="6.5"/><circle cx="1075" cy="2390.3" r="6.5"/><circle cx="1059" cy="2399.7" r="6.5"/><circle cx="1059" cy="2418.6" r="6.5"/><circle cx="1075" cy="2418.6" r="6.5"/><circle cx="1067" cy="2453.1" r="6.5"/><circle cx="1067" cy="2472" r="6.5"/><circle cx="1067" cy="2484.6" r="6.5"/></g>
<g class="co"><circle cx="803" cy="2349.4" r="6.5"/><circle cx="811" cy="2409.1" r="6.5"/><circle cx="795" cy="2412.3" r="6.5"/><circle cx="803" cy="2421.7" r="6.5"/><circle cx="795" cy="2428" r="6.5"/><circle cx="811" cy="2437.4" r="6.5"/><circle cx="795" cy="2446.9" r="6.5"/><circle cx="811" cy="2453.1" r="6.5"/><circle cx="795" cy="2462.6" r="6.5"/><circle cx="811" cy="2468.9" r="6.5"/><circle cx="803" cy="2494" r="6.5"/>
<circle cx="956" cy="2362" r="6.5"/><circle cx="948" cy="2390.3" r="6.5"/><circle cx="964" cy="2393.4" r="6.5"/><circle cx="956" cy="2406" r="6.5"/><circle cx="956" cy="2453.1" r="6.5"/><circle cx="948" cy="2462.6" r="6.5"/><circle cx="964" cy="2468.9" r="6.5"/><circle cx="956" cy="2481.4" r="6.5"/><circle cx="956" cy="2497.1" r="6.5"/>
<circle cx="1108" cy="2270.8" r="6.5"/><circle cx="1108" cy="2305.4" r="6.5"/><circle cx="1108" cy="2352.6" r="6.5"/><circle cx="1108" cy="2409.1" r="6.5"/><circle cx="1100" cy="2462.6" r="6.5"/><circle cx="1116" cy="2465.7" r="6.5"/><circle cx="1108" cy="2468.9" r="6.5"/><circle cx="1098" cy="2472" r="6.5"/><circle cx="1118" cy="2475.1" r="6.5"/></g>
<g class="cr"><circle cx="845" cy="2242.6" r="6.5"/><circle cx="845" cy="2261.4" r="6.5"/><circle cx="845" cy="2299.1" r="6.5"/><circle cx="845" cy="2352.6" r="6.5"/><circle cx="837" cy="2377.7" r="6.5"/><circle cx="853" cy="2387.1" r="6.5"/><circle cx="845" cy="2393.4" r="6.5"/><circle cx="853" cy="2412.3" r="6.5"/><circle cx="845" cy="2421.7" r="6.5"/><circle cx="845" cy="2456.3" r="6.5"/><circle cx="845" cy="2468.9" r="6.5"/>
<circle cx="997" cy="2214.3" r="6.5"/><circle cx="997" cy="2248.9" r="6.5"/><circle cx="997" cy="2280.3" r="6.5"/><circle cx="997" cy="2333.7" r="6.5"/><circle cx="997" cy="2349.4" r="6.5"/><circle cx="989" cy="2368.3" r="6.5"/><circle cx="1005" cy="2371.4" r="6.5"/><circle cx="989" cy="2377.7" r="6.5"/><circle cx="1005" cy="2380.9" r="6.5"/><circle cx="997" cy="2406" r="6.5"/><circle cx="1005" cy="2418.6" r="6.5"/><circle cx="997" cy="2431.1" r="6.5"/><circle cx="997" cy="2453.1" r="6.5"/><circle cx="989" cy="2459.4" r="6.5"/>
<circle cx="1149" cy="2274" r="6.5"/><circle cx="1149" cy="2321.1" r="6.5"/><circle cx="1149" cy="2330.6" r="6.5"/><circle cx="1149" cy="2343.1" r="6.5"/><circle cx="1149" cy="2352.6" r="6.5"/><circle cx="1149" cy="2365.1" r="6.5"/><circle cx="1141" cy="2412.3" r="6.5"/><circle cx="1157" cy="2418.6" r="6.5"/><circle cx="1141" cy="2434.3" r="6.5"/><circle cx="1157" cy="2437.4" r="6.5"/><circle cx="1149" cy="2440.6" r="6.5"/><circle cx="1135" cy="2443.7" r="6.5"/><circle cx="1149" cy="2462.6" r="6.5"/><circle cx="1149" cy="2472" r="6.5"/></g>
<path d="M760,2196H801M804,2168H845M915,2196H956M957,2172H998" stroke="#222" stroke-width="4"/>

<!-- ===== Panel h ===== -->
<g class="ax" stroke="#777"><path d="M1330,2076.8V2516M1322,2516H1772"/>
<path d="M1318,2516H1330M1318,2442.8H1330M1318,2369.6H1330M1318,2296.4H1330M1318,2223.2H1330M1318,2150H1330M1318,2076.8H1330"/>
<path d="M1399,2516V2528M1550,2516V2528M1701,2516V2528"/></g>
<rect class="bar" x="1346" y="2396.7" width="24" height="119.3"/><rect class="bar" x="1387" y="2357.2" width="24" height="158.8"/><rect class="bar" x="1428" y="2237.8" width="24" height="278.2"/>
<rect class="bar" x="1497" y="2457.4" width="24" height="58.6"/><rect class="bar" x="1538" y="2329.3" width="24" height="186.7"/><rect class="bar" x="1579" y="2240" width="24" height="276"/>
<rect class="bar" x="1648" y="2458.9" width="24" height="57.1"/><rect class="bar" x="1689" y="2289.1" width="24" height="226.9"/><rect class="bar" x="1730" y="2257.6" width="24" height="258.4"/>
<path class="er" d="M1358,2396.7V2333M1351,2333H1365 M1399,2464.8V2252.5M1392,2464.8H1406M1392,2252.5H1406 M1440,2355V2116.3M1433,2355H1447M1433,2116.3H1447 M1509,2486.7V2406.2M1502,2486.7H1516M1502,2406.2H1516 M1550,2464.8V2190.3M1543,2464.8H1557M1543,2190.3H1557 M1591,2362.3V2115.6M1584,2362.3H1598M1584,2115.6H1598 M1660,2458.9V2435.5M1653,2435.5H1667 M1701,2439.1V2135.4M1694,2439.1H1708M1694,2135.4H1708 M1742,2379.8V2130.2M1735,2379.8H1749M1735,2130.2H1749"/>
<g class="cb"><circle cx="1358" cy="2267.1" r="7"/><circle cx="1346" cy="2369.6" r="7"/><circle cx="1354" cy="2369.6" r="7"/><circle cx="1362" cy="2369.6" r="7"/><circle cx="1370" cy="2369.6" r="7"/><circle cx="1358" cy="2413.5" r="7"/><circle cx="1358" cy="2435.5" r="7"/><circle cx="1358" cy="2453.8" r="7"/><circle cx="1358" cy="2494" r="7"/>
<circle cx="1509" cy="2355" r="7"/><circle cx="1509" cy="2391.6" r="7"/><circle cx="1509" cy="2435.5" r="7"/><circle cx="1497" cy="2453.8" r="7"/><circle cx="1505" cy="2453.8" r="7"/><circle cx="1513" cy="2453.8" r="7"/><circle cx="1521" cy="2453.8" r="7"/><circle cx="1497" cy="2475.7" r="7"/><circle cx="1505" cy="2475.7" r="7"/><circle cx="1513" cy="2475.7" r="7"/><circle cx="1521" cy="2475.7" r="7"/><circle cx="1509" cy="2494" r="7"/>
<circle cx="1646" cy="2435.5" r="7"/><circle cx="1653" cy="2435.5" r="7"/><circle cx="1660" cy="2435.5" r="7"/><circle cx="1667" cy="2435.5" r="7"/><circle cx="1674" cy="2435.5" r="7"/><circle cx="1660" cy="2453.8" r="7"/><circle cx="1652" cy="2475.7" r="7"/><circle cx="1660" cy="2475.7" r="7"/><circle cx="1668" cy="2475.7" r="7"/><circle cx="1655" cy="2494" r="7"/><circle cx="1665" cy="2494" r="7"/></g>
<g class="co"><circle cx="1399" cy="2186.6" r="7"/><circle cx="1399" cy="2208.6" r="7"/><circle cx="1399" cy="2267.1" r="7"/><circle cx="1399" cy="2289.1" r="7"/><circle cx="1399" cy="2311" r="7"/><circle cx="1399" cy="2333" r="7"/><circle cx="1399" cy="2369.6" r="7"/><circle cx="1399" cy="2413.5" r="7"/><circle cx="1390" cy="2453.8" r="7"/><circle cx="1408" cy="2453.8" r="7"/><circle cx="1399" cy="2475.7" r="7"/><circle cx="1399" cy="2494" r="7"/>
<circle cx="1550" cy="2128" r="7"/><circle cx="1550" cy="2142.7" r="7"/><circle cx="1550" cy="2186.6" r="7"/><circle cx="1550" cy="2230.5" r="7"/><circle cx="1550" cy="2369.6" r="7"/><circle cx="1550" cy="2413.5" r="7"/><circle cx="1542" cy="2435.5" r="7"/><circle cx="1558" cy="2435.5" r="7"/><circle cx="1550" cy="2453.8" r="7"/><circle cx="1550" cy="2475.7" r="7"/>
<circle cx="1693" cy="2076.8" r="7"/><circle cx="1709" cy="2076.8" r="7"/><circle cx="1701" cy="2098.8" r="7"/><circle cx="1701" cy="2347.6" r="7"/><circle cx="1701" cy="2369.6" r="7"/><circle cx="1693" cy="2391.6" r="7"/><circle cx="1709" cy="2391.6" r="7"/><circle cx="1693" cy="2413.5" r="7"/><circle cx="1709" cy="2413.5" r="7"/></g>
<g class="cr"><circle cx="1432" cy="2084.1" r="7"/><circle cx="1448" cy="2084.1" r="7"/><circle cx="1440" cy="2128" r="7"/><circle cx="1440" cy="2164.6" r="7"/><circle cx="1440" cy="2186.6" r="7"/><circle cx="1440" cy="2208.6" r="7"/><circle cx="1440" cy="2267.1" r="7"/><circle cx="1440" cy="2311" r="7"/><circle cx="1440" cy="2333" r="7"/><circle cx="1440" cy="2391.6" r="7"/><circle cx="1440" cy="2435.5" r="7"/>
<circle cx="1583" cy="2084.1" r="7"/><circle cx="1599" cy="2084.1" r="7"/><circle cx="1591" cy="2106.1" r="7"/><circle cx="1591" cy="2128" r="7"/><circle cx="1583" cy="2142.7" r="7"/><circle cx="1599" cy="2142.7" r="7"/><circle cx="1591" cy="2186.6" r="7"/><circle cx="1591" cy="2208.6" r="7"/><circle cx="1591" cy="2245.2" r="7"/><circle cx="1591" cy="2311" r="7"/><circle cx="1591" cy="2355" r="7"/><circle cx="1591" cy="2369.6" r="7"/><circle cx="1583" cy="2391.6" r="7"/><circle cx="1599" cy="2391.6" r="7"/><circle cx="1591" cy="2413.5" r="7"/>
<circle cx="1736" cy="2076.8" r="7"/><circle cx="1748" cy="2076.8" r="7"/><circle cx="1736" cy="2120.7" r="7"/><circle cx="1748" cy="2120.7" r="7"/><circle cx="1742" cy="2182.9" r="7"/><circle cx="1732" cy="2245.2" r="7"/><circle cx="1742" cy="2245.2" r="7"/><circle cx="1752" cy="2245.2" r="7"/><circle cx="1732" cy="2289.1" r="7"/><circle cx="1742" cy="2289.1" r="7"/><circle cx="1752" cy="2289.1" r="7"/><circle cx="1742" cy="2329.3" r="7"/><circle cx="1742" cy="2413.5" r="7"/><circle cx="1742" cy="2435.5" r="7"/><circle cx="1742" cy="2475.7" r="7"/></g>
<path d="M1358,2040H1440M1400,2064H1440M1509,2040H1590M1510,2064H1551M1659,2040H1740M1659,2064H1701" stroke="#222" stroke-width="4"/>

<!-- f,g,h text -->
<text x="340" y="2001" font-size="28" text-anchor="middle">Maximum deformation</text>
<text x="967" y="2003" font-size="28" text-anchor="middle">Average deformation</text>
<text x="1558" y="2001" font-size="28" text-anchor="middle">Total deformation time</text>
<g font-size="24" text-anchor="end">
<text x="95" y="2525">0</text><text x="95" y="2462">20</text><text x="95" y="2399">40</text><text x="95" y="2336">60</text><text x="95" y="2273">80</text><text x="95" y="2211">100</text><text x="95" y="2148">120</text><text x="95" y="2085">140</text>
<text x="714" y="2525">0</text><text x="714" y="2462">20</text><text x="714" y="2399">40</text><text x="714" y="2336">60</text><text x="714" y="2273">80</text><text x="714" y="2211">100</text><text x="714" y="2148">120</text><text x="714" y="2085">140</text>
<text x="1310" y="2525">0</text><text x="1310" y="2452">10</text><text x="1310" y="2379">20</text><text x="1310" y="2305">30</text><text x="1310" y="2232">40</text><text x="1310" y="2159">50</text><text x="1310" y="2086">60</text>
</g>
<text transform="translate(26,2296) rotate(-90)" font-size="25" text-anchor="middle">PAM (voxels per µm<tspan font-size="15" dy="-10">2</tspan><tspan dy="10">)</tspan></text>
<text transform="translate(648,2296) rotate(-90)" font-size="25" text-anchor="middle">PAM (voxels per µm<tspan font-size="15" dy="-10">2</tspan><tspan dy="10">)</tspan></text>
<text transform="translate(1253,2296) rotate(-90)" font-size="25" text-anchor="middle">Time (s)</text>
<g font-size="26" text-anchor="end">
<text transform="translate(194,2548) rotate(-45)">Rh5iKO</text>
<text transform="translate(345,2548) rotate(-45)">CSSiKO</text>
<text transform="translate(497,2548) rotate(-45)">PTRAMPiKO</text>
<text transform="translate(811,2548) rotate(-45)">Rh5iKO</text>
<text transform="translate(964,2548) rotate(-45)">CSSiKO</text>
<text transform="translate(1116,2548) rotate(-45)">PTRAMPiKO</text>
<text transform="translate(1407,2548) rotate(-45)">Rh5iKO</text>
<text transform="translate(1558,2548) rotate(-45)">CSSiKO</text>
<text transform="translate(1709,2548) rotate(-45)">PTRAMPiKO</text>
</g>
<g font-size="28" text-anchor="middle">
<text x="354" y="2086">*</text>
<text x="780" y="2194">**</text><text x="824" y="2166">*</text>
<text x="935" y="2194">*</text><text x="977" y="2170">*</text>
<text x="1398" y="2038">**</text><text x="1420" y="2062">*</text>
<text x="1550" y="2038">****</text><text x="1530" y="2062">*</text>
<text x="1700" y="2038">****</text><text x="1680" y="2062">****</text>
</g>
<circle cx="629" cy="2695" r="7" fill="none" stroke="#4a86c8" stroke-width="4"/>
<circle cx="781" cy="2695" r="7" fill="none" stroke="#f5b26b" stroke-width="4"/>
<circle cx="1104" cy="2695" r="7" fill="none" stroke="#e8424a" stroke-width="4"/>
<g font-size="27">
<text x="650" y="2704">Control</text><text x="802" y="2704">Non-invading control</text><text x="1121" y="2704">Rapa treated</text>
</g>
</svg>
</body></html>
